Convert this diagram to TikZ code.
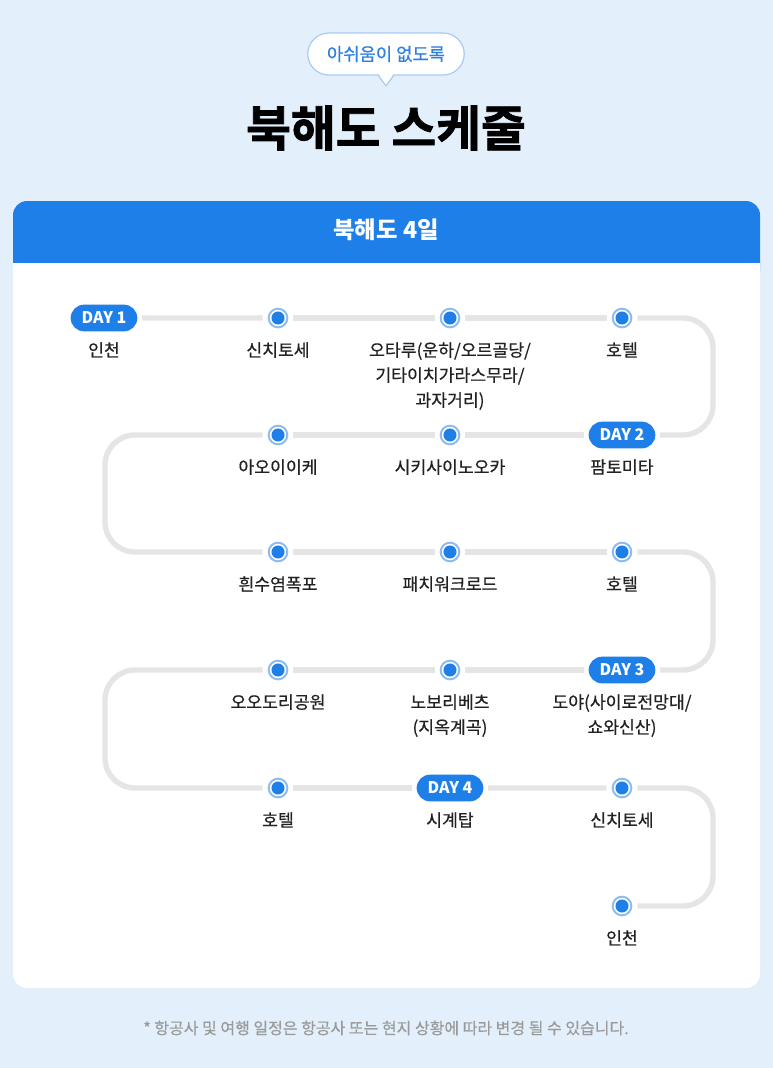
\documentclass[tikz,border=0pt]{standalone}
\usepackage{fontspec}
\setmainfont{Noto Sans CJK KR}
\newfontfamily\medfont[FakeBold=0.5]{Noto Sans CJK KR}
\newfontfamily\heavyfont[FakeBold=1.6]{Noto Sans CJK KR Bold}
\usetikzlibrary{shapes.misc}
\definecolor{bgblue}{HTML}{E3F0FC}
\definecolor{headblue}{HTML}{1F7FE8}
\definecolor{dotblue}{HTML}{1F7FE8}
\definecolor{ringblue}{HTML}{8EBCF0}
\definecolor{trackgray}{HTML}{E5E5E5}
\definecolor{textdark}{HTML}{222222}
\definecolor{bubbleline}{HTML}{A7CBF2}
\definecolor{bubbletext}{HTML}{2D7FE0}
\definecolor{notegray}{HTML}{9A9A9A}
\begin{document}
\begin{tikzpicture}[x=0.75pt,y=-0.75pt,
  track/.style={draw=trackgray, line width=4pt, rounded corners=22.5pt},
  dot/.style={circle, minimum size=14pt, inner sep=0pt, fill=white, draw=ringblue,
    line width=1.5pt, outer sep=4.6pt,
    path picture={\fill[dotblue] (path picture bounding box.center) circle (4.9pt);}},
  badge/.style={rounded rectangle, fill=dotblue, text=white,
    font=\bfseries\fontsize{12pt}{13pt}\selectfont,
    minimum width=50pt, minimum height=20pt, inner sep=0pt, outer sep=3.5pt},
  place/.style={anchor=north, align=center, inner sep=0pt, text=textdark,
    font=\medfont\fontsize{12.9pt}{18.75pt}\selectfont}]
\useasboundingbox (0,0) rectangle (773,1068);
\fill[bgblue] (0,0) rectangle (773,1068);

% speech bubble
\node[rounded rectangle, minimum width=124pt, minimum height=31.5pt, fill=white,
  draw=bubbleline, line width=0.9pt, text=bubbletext,
  font=\medfont\fontsize{13.3pt}{15pt}\selectfont] (bubble) at (386,54) {아쉬움이 없도록};
\fill[white] (378,73) -- (386,86) -- (394,73) -- cycle;
\draw[bubbleline, line width=0.9pt, line join=round] (378,75) -- (386,86) -- (394,75);

% title
\node[font=\heavyfont\fontsize{36.5pt}{40pt}\selectfont, text=black] (title) at (386,128) {북해도 스케줄};

% card
\fill[white, rounded corners=10.5pt] (13,201) rectangle (760,988);
\fill[headblue, rounded corners=10.5pt] (13,201) rectangle (760,285);
\fill[white] (13,263) rectangle (760,300);
\node[text=white, font=\bfseries\fontsize{17.5pt}{20pt}\selectfont] (head) at (386,230) {북해도 4일};

% row 1
\node[badge] (b1) at (104,318) {DAY 1};
\node[dot] (n12) at (278,318) {};
\node[dot] (n13) at (450,318) {};
\node[dot] (n14) at (622,318) {};
\coordinate (c1a) at (713,318);
\coordinate (c1b) at (713,435);
% row 2
\node[badge] (b2) at (622,435) {DAY 2};
\node[dot] (n22) at (450,435) {};
\node[dot] (n23) at (278,435) {};
\coordinate (c2a) at (105,435);
\coordinate (c2b) at (105,552);
% row 3
\node[dot] (n31) at (278,552) {};
\node[dot] (n32) at (450,552) {};
\node[dot] (n33) at (622,552) {};
\coordinate (c3a) at (713,552);
\coordinate (c3b) at (713,670);
% row 4
\node[badge] (b3) at (622,670) {DAY 3};
\node[dot] (n42) at (450,670) {};
\node[dot] (n43) at (278,670) {};
\coordinate (c4a) at (105,670);
\coordinate (c4b) at (105,788);
% row 5
\node[dot] (n51) at (278,788) {};
\node[badge] (b4) at (450,788) {DAY 4};
\node[dot] (n53) at (622,788) {};
\coordinate (c5a) at (713,788);
\coordinate (c5b) at (713,906);
% row 6
\node[dot] (n61) at (622,906) {};

% track
\draw[track] (b1) -- (n12);
\draw[track] (n12) -- (n13);
\draw[track] (n13) -- (n14);
\draw[track] (n14) -- (c1a) -- (c1b) -- (b2);
\draw[track] (b2) -- (n22);
\draw[track] (n22) -- (n23);
\draw[track] (n23) -- (c2a) -- (c2b) -- (n31);
\draw[track] (n31) -- (n32);
\draw[track] (n32) -- (n33);
\draw[track] (n33) -- (c3a) -- (c3b) -- (b3);
\draw[track] (b3) -- (n42);
\draw[track] (n42) -- (n43);
\draw[track] (n43) -- (c4a) -- (c4b) -- (n51);
\draw[track] (n51) -- (b4);
\draw[track] (b4) -- (n53);
\draw[track] (n53) -- (c5a) -- (c5b) -- (n61);

% labels
\node[place] (l11) at (104,342) {인천};
\node[place] (l12) at (278,342) {신치토세};
\node[place] (l13) at (450,342) {오타루(운하/오르골당/\\기타이치가라스무라/\\과자거리)};
\node[place] (l14) at (622,342) {호텔};
\node[place] (l21) at (622,459) {팜토미타};
\node[place] (l22) at (450,459) {시키사이노오카};
\node[place] (l23) at (278,459) {아오이이케};
\node[place] (l31) at (278,576) {흰수염폭포};
\node[place] (l32) at (450,576) {패치워크로드};
\node[place] (l33) at (622,576) {호텔};
\node[place] (l41) at (622,694) {도야(사이로전망대/\\쇼와신산)};
\node[place] (l42) at (450,694) {노보리베츠\\(지옥계곡)};
\node[place] (l43) at (278,694) {오오도리공원};
\node[place] (l51) at (278,812) {호텔};
\node[place] (l52) at (450,812) {시계탑};
\node[place] (l53) at (622,812) {신치토세};
\node[place] (l61) at (622,930) {인천};

% footnote
\node[text=notegray, font=\medfont\fontsize{12pt}{14pt}\selectfont] (note) at (386,1028)
  {* 항공사 및 여행 일정은 항공사 또는 현지 상황에 따라 변경 될 수 있습니다.};
\end{tikzpicture}
\end{document}
